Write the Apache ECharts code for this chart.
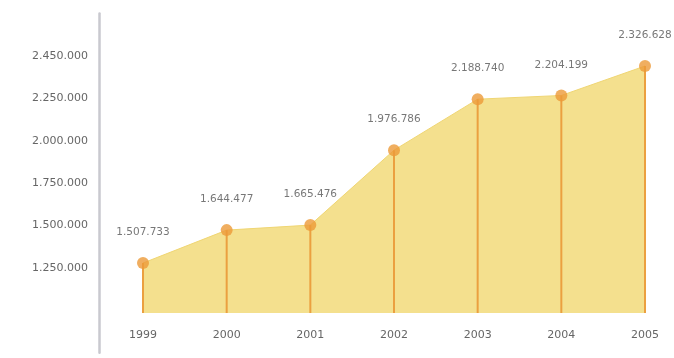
<!DOCTYPE html>
<html>
<head>
<meta charset="utf-8">
<script src="https://cdn.jsdelivr.net/npm/echarts@6/dist/echarts.min.js"></script>
<style>
html,body{margin:0;padding:0;background:#fff;}
#c{width:674px;height:358px;}
</style>
</head>
<body>
<div id="c"></div>
<script>
var years = ['1999','2000','2001','2002','2003','2004','2005'];
var values = [1507733, 1644477, 1665476, 1976786, 2188740, 2204199, 2326628];
var yTickLabels = ['1.250.000','1.500.000','1.750.000','2.000.000','2.250.000','2.450.000'];

function fmt(n){ return String(n).replace(/\B(?=(\d{3})+(?!\d))/g, '.'); }

var chart = echarts.init(document.getElementById('c'));
var font = 'DejaVu Sans';
chart.setOption({
  backgroundColor: '#ffffff',
  animation: false,
  grid: [
    {left: 143, right: 29, top: 24.3, bottom: 45},
    {left: 99, width: 1, top: 13.6, bottom: 5.2}
  ],
  xAxis: [
    {type: 'category', gridIndex: 0, data: years, boundaryGap: false,
     axisLine: {show: false}, axisTick: {show: false}, splitLine: {show: false},
     axisLabel: {color: '#666', fontFamily: font, fontSize: 11, margin: 17}},
    {type: 'value', gridIndex: 1, show: false}
  ],
  yAxis: [
    {type: 'value', gridIndex: 0, min: 1300000, max: 2500000, show: false},
    {type: 'value', gridIndex: 1, min: -2, max: 6, interval: 1,
     axisLine: {show: true, lineStyle: {color: '#c9c9cf', width: 2.5}},
     axisTick: {show: false}, splitLine: {show: false},
     axisLabel: {color: '#666', fontFamily: font, fontSize: 11, margin: 11,
       formatter: function(v){ var i = Math.round(v); return (i >= 0 && i < yTickLabels.length) ? yTickLabels[i] : ''; }}}
  ],
  series: [
    {type: 'line', xAxisIndex: 0, yAxisIndex: 0, data: values, symbol: 'none',
     lineStyle: {color: '#f0d673', width: 1}, areaStyle: {color: '#f4e08e', opacity: 1}, z: 1},
    {type: 'bar', xAxisIndex: 0, yAxisIndex: 0, data: values, barWidth: 2,
     itemStyle: {color: '#eba040'}, z: 2},
    {type: 'scatter', xAxisIndex: 0, yAxisIndex: 0, data: values, symbol: 'circle', symbolSize: 12,
     itemStyle: {color: '#ec9a38'}, z: 3,
     label: {show: true, position: 'top', distance: 19, color: '#555', fontFamily: font, fontSize: 10.5,
       formatter: function(p){ return fmt(p.value); }}}
  ]
});
</script>
</body>
</html>
